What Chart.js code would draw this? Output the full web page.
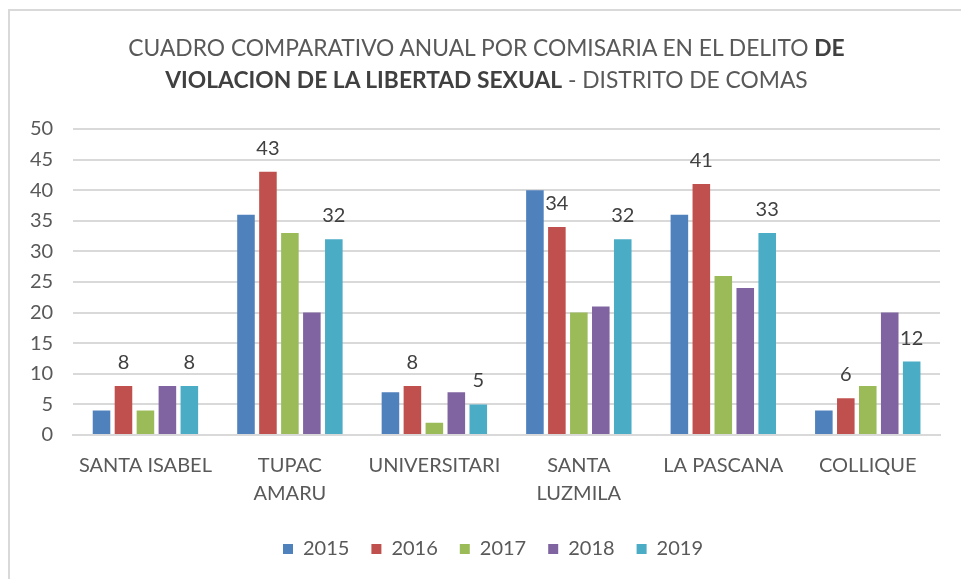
<!DOCTYPE html>
<html lang="es">
<head>
<meta charset="utf-8">
<title>Cuadro comparativo anual por comisaría</title>
<script src="https://cdn.jsdelivr.net/npm/chart.js@4.4.1/dist/chart.umd.min.js"></script>
<style>
  html, body { margin: 0; padding: 0; background: #fff; }
  #marco {
    position: absolute; left: 8px; top: 9px; width: 953px; height: 570px;
    border-top: 2px solid #d9d9d9; border-left: 2px solid #d9d9d9;
    box-sizing: border-box;
  }
  #titulo {
    position: absolute; left: 6px; top: 31px; width: 961px;
    text-align: center; font-family: Lato, "Open Sans", sans-serif;
    font-size: 22.8px; line-height: 32px; color: #595959;
  }
  #titulo b { color: #404040; }
  #lienzo { position: absolute; left: 0; top: 0; width: 961px; height: 579px; }
</style>
</head>
<body>
<div id="marco"></div>
<div id="lienzo"><canvas id="grafico"></canvas></div>
<div id="titulo">CUADRO COMPARATIVO ANUAL POR COMISARIA EN EL DELITO <b>DE</b><br><b>VIOLACION DE LA LIBERTAD SEXUAL</b> - DISTRITO DE COMAS</div>
<script>
// Comisarías del distrito
const comisarias = ['SANTA ISABEL', ['TUPAC', 'AMARU'], 'UNIVERSITARI', ['SANTA', 'LUZMILA'], 'LA PASCANA', 'COLLIQUE'];
const anios = ['2015', '2016', '2017', '2018', '2019'];

// Casos por año
const casos2015 = [4, 36, 7, 40, 36, 4];
const casos2016 = [8, 43, 8, 34, 41, 6];
const casos2017 = [4, 33, 2, 20, 26, 8];
const casos2018 = [8, 20, 7, 21, 24, 20];
const casos2019 = [8, 32, 5, 32, 33, 12];

const colores = ['#4F81BD', '#C0504D', '#9BBB59', '#8064A2', '#4BACC6'];
const ejeY = { min: 0, max: 50, paso: 5 };

// Solo 2016 y 2019 llevan etiqueta de valor
const conEtiqueta = ['2016', '2019'];

const series = [casos2015, casos2016, casos2017, casos2018, casos2019];
const fuente = 'Lato, "Open Sans", sans-serif';

// Plugin para escribir los valores encima de las barras
const etiquetasValor = {
    id: 'etiquetasValor',
    afterDatasetsDraw(chart) {
        const ctx = chart.ctx;
        ctx.save();
        ctx.font = '20px ' + fuente;
        ctx.fillStyle = '#404040';
        ctx.textAlign = 'center';
        ctx.textBaseline = 'alphabetic';
        chart.data.datasets.forEach((ds, i) => {
            if (!conEtiqueta.includes(ds.label)) return;
            chart.getDatasetMeta(i).data.forEach((barra, j) => {
                ctx.fillText(ds.data[j], barra.x, barra.y - 17);
            });
        });
        ctx.restore();
    }
};

// La leyenda va un poco más a la derecha, bajo el área de barras
const moverLeyenda = {
    id: 'moverLeyenda',
    afterLayout(chart) {
        chart.legend.left += 18;
        chart.legend.right += 18;
    }
};

const ctx = document.getElementById('grafico').getContext('2d');
const grafico = new Chart(ctx, {
    type: 'bar',
    data: {
        labels: comisarias,
        datasets: anios.map((anio, i) => ({
            label: anio,
            data: series[i],
            backgroundColor: colores[i],
            borderWidth: 0,
            categoryPercentage: 0.76,
            barPercentage: 0.8
        }))
    },
    options: {
        responsive: true,
        maintainAspectRatio: false,
        animation: false,
        layout: { padding: { left: 10, right: 21, top: 129, bottom: 10 } },
        plugins: {
            title: { display: false },
            tooltip: { enabled: false },
            legend: {
                position: 'bottom',
                labels: {
                    boxWidth: 10,
                    boxHeight: 10,
                    padding: 22,
                    color: '#595959',
                    font: { family: fuente, size: 20 }
                }
            }
        },
        scales: {
            x: {
                grid: { display: false },
                border: { color: '#d9d9d9', width: 2 },
                ticks: {
                    color: '#595959',
                    font: { family: fuente, size: 20, lineHeight: 1.4 },
                    maxRotation: 0,
                    padding: 9
                }
            },
            y: {
                min: ejeY.min,
                max: ejeY.max,
                grid: { color: '#d9d9d9', lineWidth: 2, drawTicks: false },
                border: { display: false },
                ticks: {
                    stepSize: ejeY.paso,
                    color: '#595959',
                    font: { family: fuente, size: 20 },
                    padding: 20
                }
            }
        }
    },
    plugins: [etiquetasValor, moverLeyenda]
});
</script>
</body>
</html>
